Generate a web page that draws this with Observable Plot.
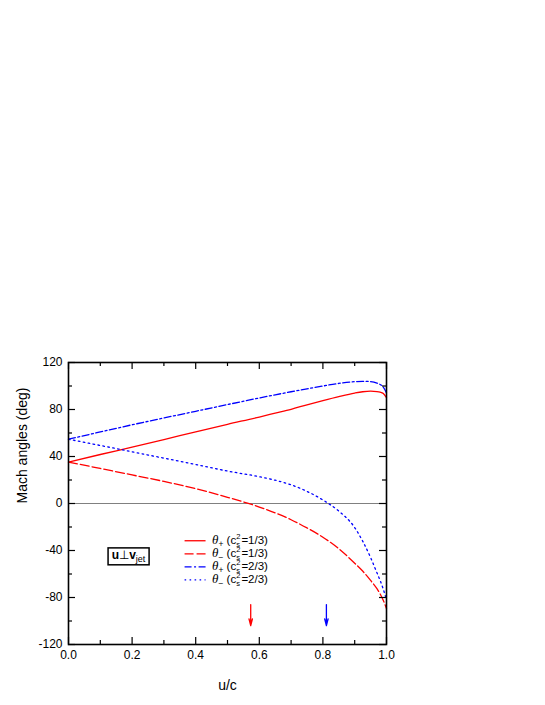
<!DOCTYPE html>
<html>
<head>
<meta charset="utf-8">
<script src="https://cdn.jsdelivr.net/npm/d3@7"></script>
<script src="https://cdn.jsdelivr.net/npm/@observablehq/plot@0.6"></script>
<style>
  html, body { margin: 0; padding: 0; background: white; }
</style>
</head>
<body>
<div id="chart"></div>
<script>
// ---- data ----
const u = [0, 0.1, 0.2, 0.3, 0.4, 0.5, 0.6, 0.65, 0.7, 0.75, 0.8, 0.85, 0.9, 0.925, 0.95, 0.97, 0.98, 0.99, 1.0];
const thetaPlus13  = [35.3, 41.7, 48.0, 54.4, 61.0, 67.4, 73.6, 76.9, 80.2, 84.0, 87.6, 91.0, 94.0, 95.1, 95.6, 95.3, 94.8, 93.6, 90.0];
const thetaMinus13 = [35.3, 29.8, 24.3, 18.8, 12.6, 5.3, -3.0, -8.0, -13.8, -20.8, -28.7, -38.5, -50.8, -57.5, -65.5, -72.5, -77.0, -82.5, -89.5];
const thetaPlus23  = [54.7, 60.9, 67.0, 72.8, 78.5, 84.2, 89.8, 92.5, 95.1, 97.6, 100.0, 102.2, 103.7, 104.0, 103.7, 102.5, 101.3, 99.0, 94.0];
const thetaMinus23 = [54.7, 49.4, 44.0, 38.6, 33.2, 27.6, 22.8, 19.8, 15.9, 10.3, 3.0, -6.5, -20.5, -32.0, -46.0, -59.0, -65.5, -73.0, -82.0];

const xMajor = [0, 0.2, 0.4, 0.6, 0.8, 1.0];
const xMinor = [0.1, 0.3, 0.5, 0.7, 0.9];
const yMajor = [-120, -80, -40, 0, 40, 80, 120];
const yMinor = [-100, -60, -20, 20, 60, 100];

const arrowU = [0.573, 0.811];
const arrowColors = ["#ff0000", "#0000ff"];
const arrowY = [-86, -104];

const legendSign = ["+", "−", "+", "−"];
const legendFrac = ["1/3", "1/3", "2/3", "2/3"];
const legendY = [-31.7, -42.8, -53.9, -65.0];
const legendX = [0.365, 0.431, 0.453];   // sample start, sample end, text start
const boxX = [0.126, 0.255];
const boxY = [-38.2, -52.6];

// ---- styles ----
const series = [
  {vals: thetaPlus13,  stroke: "#ff0000", dash: null},
  {vals: thetaMinus13, stroke: "#ff0000", dash: "9,3"},
  {vals: thetaPlus23,  stroke: "#0000ff", dash: "7,2.5,2,2.5"},
  {vals: thetaMinus23, stroke: "#0000ff", dash: "1.6,3.4"}
];

const W = 545, H = 705, mL = 68, mR = 159, mT = 362, mB = 61;
const innerW = W - mL - mR, innerH = H - mT - mB;

const lineMarks = series.map(s => Plot.line(u.map((x, i) => ({u: x, v: s.vals[i]})), {
  x: "u", y: "v", stroke: s.stroke, strokeWidth: 1.3, curve: "monotone-x",
  strokeDasharray: s.dash ?? undefined
}));

const legendMarks = series.map((s, i) => Plot.link([legendY[i]], {
  x1: legendX[0], x2: legendX[1], y1: d => d, y2: d => d,
  stroke: s.stroke, strokeWidth: 1.3, strokeDasharray: s.dash ?? undefined
}));

const arrows = Plot.arrow(arrowU.map((x, i) => ({u: x, c: arrowColors[i]})), {
  x1: "u", x2: "u", y1: arrowY[0], y2: arrowY[1], stroke: "c",
  strokeWidth: 1.3, headLength: 8, headAngle: 28
});

const chart = Plot.plot({
  width: W, height: H,
  marginLeft: mL, marginRight: mR, marginTop: mT, marginBottom: mB,
  style: {fontFamily: "'Liberation Sans', Arial, Helvetica, sans-serif", fontSize: "12px", background: "white", color: "black"},
  x: {domain: [0, 1]},
  y: {domain: [-120, 120]},
  marks: [
    Plot.ruleY([0], {stroke: "#808080", strokeWidth: 1}),
    ...lineMarks,
    arrows,
    ...legendMarks,
    Plot.rect([0], {x1: boxX[0], x2: boxX[1], y1: boxY[0], y2: boxY[1], fill: "none", stroke: "black", strokeWidth: 1.5}),
    // inward ticks on all four sides
    Plot.ruleX(xMajor, {insetTop: innerH - 7, stroke: "black", strokeWidth: 1.2}),
    Plot.ruleX(xMajor, {insetBottom: innerH - 7, stroke: "black", strokeWidth: 1.2}),
    Plot.ruleX(xMinor, {insetTop: innerH - 4, stroke: "black", strokeWidth: 1.2}),
    Plot.ruleX(xMinor, {insetBottom: innerH - 4, stroke: "black", strokeWidth: 1.2}),
    Plot.ruleY(yMajor, {insetRight: innerW - 7, stroke: "black", strokeWidth: 1.2}),
    Plot.ruleY(yMajor, {insetLeft: innerW - 7, stroke: "black", strokeWidth: 1.2}),
    Plot.ruleY(yMinor, {insetRight: innerW - 4, stroke: "black", strokeWidth: 1.2}),
    Plot.ruleY(yMinor, {insetLeft: innerW - 4, stroke: "black", strokeWidth: 1.2}),
    Plot.axisX({ticks: xMajor, tickSize: 0, tickPadding: 6, tickFormat: d => d.toFixed(1), label: null, fontSize: 12}),
    Plot.axisY({ticks: yMajor, tickSize: 0, tickPadding: 6, tickFormat: d => String(d), label: null, fontSize: 12}),
    Plot.frame({stroke: "black", strokeWidth: 1.6}),
    Plot.text(["u/c"], {frameAnchor: "bottom", dy: 41, fontSize: 14, lineAnchor: "middle"}),
    Plot.text(["Mach angles (deg)"], {frameAnchor: "left", rotate: -90, dx: -46, fontSize: 14, lineAnchor: "middle"})
  ]
});

// rich-text labels positioned through the plot's scales
const sx = chart.scale("x"), sy = chart.scale("y");
const svg = d3.select(chart);
const g = svg.append("g")
  .attr("font-family", "'Liberation Sans', Arial, Helvetica, sans-serif")
  .attr("fill", "black")
  .attr("text-anchor", "start");

legendY.forEach((yv, i) => {
  const t = g.append("text")
    .attr("text-anchor", "start")
    .attr("x", sx.apply(legendX[2]))
    .attr("y", sy.apply(yv) + 4)
    .attr("font-size", 11.5);
  t.append("tspan").attr("font-family", "'Liberation Serif', 'DejaVu Serif', serif").attr("font-style", "italic").attr("font-size", 13).text("θ");
  t.append("tspan").attr("font-size", 8.5).attr("dy", 3).text(legendSign[i]);
  t.append("tspan").attr("dy", -3).text(" (c");
  t.append("tspan").attr("font-size", 7.5).attr("dy", -5).text("2");
  t.append("tspan").attr("font-size", 7.5).attr("dx", -4.2).attr("dy", 8).text("s");
  t.append("tspan").attr("dy", -3).attr("dx", 1.5).text("=" + legendFrac[i] + ")");
});

const bt = g.append("text")
  .attr("text-anchor", "middle")
  .attr("x", (sx.apply(boxX[0]) + sx.apply(boxX[1])) / 2)
  .attr("y", (sy.apply(boxY[0]) + sy.apply(boxY[1])) / 2 + 3)
  .attr("font-size", 12);
bt.append("tspan").attr("font-weight", "bold").text("u");
bt.append("tspan").text("⊥");
bt.append("tspan").attr("font-weight", "bold").text("v");
bt.append("tspan").attr("font-size", 9).attr("dy", 3).text("jet");

document.getElementById("chart").appendChild(chart);
</script>
</body>
</html>
